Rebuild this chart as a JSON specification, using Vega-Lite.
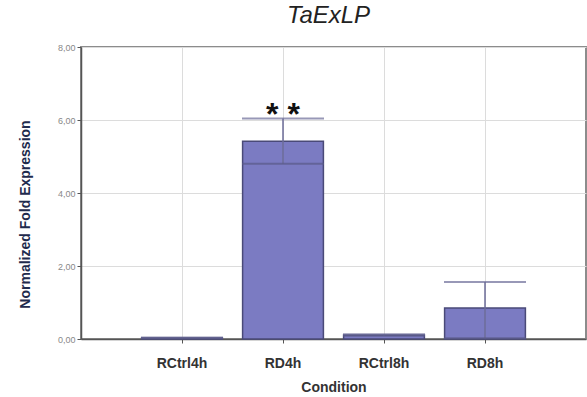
{
  "$schema": "https://vega.github.io/schema/vega-lite/v6.json",
  "autosize": "none",
  "padding": {"left": 81, "top": 47, "right": 1, "bottom": 58},
  "width": 505,
  "height": 292,
  "background": "white",
  "title": {
    "text": "TaExLP",
    "font": "Liberation Sans",
    "fontSize": 24,
    "fontStyle": "italic",
    "fontWeight": "normal",
    "color": "#222222",
    "anchor": "middle",
    "offset": 15,
    "dx": -5
  },
  "config": {
    "view": {"stroke": "#8c8c8c", "strokeWidth": 2},
    "axis": {
      "labelFont": "Liberation Sans",
      "titleFont": "Liberation Sans",
      "gridColor": "#dcdcdc",
      "gridWidth": 1,
      "domainColor": "#555555",
      "tickColor": "#555555"
    }
  },
  "data": {
    "values": [
      {"condition": "RCtrl4h", "value": 0.03, "lower": 0.02, "upper": 0.04, "sig": ""},
      {"condition": "RD4h", "value": 5.42, "lower": 4.8, "upper": 6.04, "sig": "* *"},
      {"condition": "RCtrl8h", "value": 0.11, "lower": 0.09, "upper": 0.13, "sig": ""},
      {"condition": "RD8h", "value": 0.85, "lower": 0.02, "upper": 1.56, "sig": ""}
    ]
  },
  "encoding": {
    "x": {
      "field": "condition",
      "type": "nominal",
      "sort": null,
      "scale": {"paddingInner": 0.2, "paddingOuter": 0.6},
      "axis": {
        "title": "Condition",
        "titleFontSize": 14,
        "titleFontWeight": "bold",
        "titleColor": "#333333",
        "titlePadding": 10,
        "labelAngle": 0,
        "labelFontSize": 14,
        "labelFontWeight": "bold",
        "labelColor": "#333333",
        "labelPadding": 13,
        "tickSize": 4,
        "bandPosition": 0.5,
        "grid": true,
        "domainWidth": 1.5
      }
    }
  },
  "layer": [
    {
      "mark": {"type": "bar", "color": "#7b7bc2", "stroke": "#4a4a78", "strokeWidth": 1.5},
      "encoding": {
        "y": {
          "field": "value",
          "type": "quantitative",
          "scale": {"domain": [0, 8], "nice": false},
          "axis": {
            "title": "Normalized Fold Expression",
            "titleFontSize": 14,
            "titleFontWeight": "bold",
            "titleColor": "#1f2b4d",
            "titleX": -56,
            "titleY": 167,
            "titleAngle": -90,
            "titleAlign": "center",
            "titleBaseline": "middle",
            "values": [0, 2, 4, 6, 8],
            "labelExpr": "replace(format(datum.value, '.2f'), '.', ',')",
            "labelFontSize": 9,
            "labelColor": "#888888",
            "labelPadding": 2,
            "tickSize": 4,
            "domainWidth": 1.5
          }
        }
      }
    },
    {
      "mark": {"type": "rule", "color": "#6c6c99", "strokeWidth": 1.5},
      "encoding": {
        "y": {"field": "lower", "type": "quantitative"},
        "y2": {"field": "upper"}
      }
    },
    {
      "mark": {"type": "tick", "color": "#6c6c99", "thickness": 2, "size": 82},
      "encoding": {
        "y": {"field": "upper", "type": "quantitative"}
      }
    },
    {
      "mark": {"type": "tick", "color": "#5a5a88", "thickness": 2, "size": 82},
      "encoding": {
        "y": {"field": "lower", "type": "quantitative"}
      }
    },
    {
      "mark": {"type": "text", "font": "Liberation Sans", "fontSize": 32, "fontWeight": "bold", "color": "#111111", "baseline": "middle", "dy": 8},
      "encoding": {
        "y": {"datum": 6.36, "type": "quantitative"},
        "text": {"field": "sig"}
      }
    }
  ]
}
